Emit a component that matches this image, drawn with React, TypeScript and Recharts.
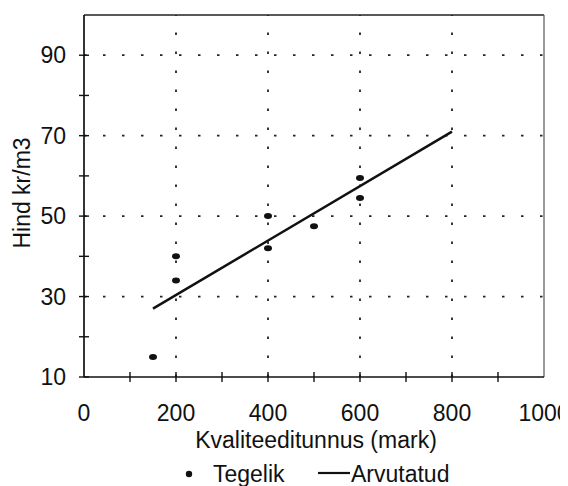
import React from 'react';
import { ScatterChart, Scatter, XAxis, YAxis, ReferenceLine, Legend } from 'recharts';

const tegelikX = [150, 200, 200, 400, 400, 500, 600, 600];
const tegelikY = [15, 40, 34, 50, 42, 47.5, 59.5, 54.5];
const arvutatudX = [150, 800];
const arvutatudY = [27, 71];

const xTicks = [0, 100, 200, 300, 400, 500, 600, 700, 800, 900, 1000];
const xLabels = [0, 200, 400, 600, 800, 1000];
const yTicks = [10, 20, 30, 40, 50, 60, 70, 80, 90, 100];
const yLabels = [10, 30, 50, 70, 90];
const xGrid = [200, 400, 600, 800];
const yGrid = [30, 50, 70, 90];

const tegelik = tegelikX.map((x, i) => ({ x, y: tegelikY[i] }));
const arvutatud = arvutatudX.map((x, i) => ({ x, y: arvutatudY[i] }));

const FONT = '"Liberation Sans", Arial, sans-serif';

const XTick = (props: any) => {
  const { x, y, payload } = props;
  const v = payload.value;
  return (
    <g>
      {v !== 0 && v !== 1000 && <line x1={x} x2={x} y1={y - 5} y2={y + 5} stroke="#111" strokeWidth={1.4} />}
      {xLabels.includes(v) && (
        <text x={x} y={y + 44} textAnchor="middle" fontFamily={FONT} fontSize={23} fill="#111">
          {v}
        </text>
      )}
    </g>
  );
};

const YTick = (props: any) => {
  const { x, y, payload } = props;
  const v = payload.value;
  return (
    <g>
      {v !== 100 && <line x1={x - 5} x2={x + 5} y1={y} y2={y} stroke="#111" strokeWidth={1.4} />}
      {yLabels.includes(v) && (
        <text x={x - 18} y={y + 8} textAnchor="end" fontFamily={FONT} fontSize={23} fill="#111">
          {v}
        </text>
      )}
    </g>
  );
};

const Dot = (props: any) => {
  const { cx, cy } = props;
  return <ellipse cx={cx} cy={cy} rx={4} ry={3} fill="#111" />;
};

const NoShape = () => <g />;

const LegendContent = () => (
  <svg width={552} height={30} style={{ display: 'block' }}>
    <circle cx={165} cy={18} r={3.2} fill="#111" />
    <text x={189} y={26} fontFamily={FONT} fontSize={23} fill="#111">Tegelik</text>
    <line x1={294} x2={326} y1={17} y2={17} stroke="#111" strokeWidth={2.2} />
    <text x={327} y={26} fontFamily={FONT} fontSize={23} fill="#111">Arvutatud</text>
  </svg>
);

export default function App() {
  return (
    <ScatterChart width={552} height={478} margin={{ top: 7, right: 16, bottom: 0, left: 16 }}>
      <XAxis
        type="number"
        dataKey="x"
        domain={[0, 1000]}
        ticks={xTicks}
        interval={0}
        tickSize={0}
        tickMargin={0}
        tickLine={false}
        tick={<XTick />}
        height={79}
        axisLine={{ stroke: '#111', strokeWidth: 1.7 }}
        allowDataOverflow
        label={{
          content: (p: any) => {
            const vb = p.viewBox;
            return (
              <text x={vb.x + vb.width / 2 + 2} y={vb.y + 71} textAnchor="middle" fontFamily={FONT} fontSize={23} fill="#111">
                Kvaliteeditunnus (mark)
              </text>
            );
          },
        }}
      />
      <YAxis
        type="number"
        dataKey="y"
        domain={[10, 100]}
        ticks={yTicks}
        interval={0}
        tickSize={0}
        tickMargin={0}
        tickLine={false}
        tick={<YTick />}
        width={60}
        axisLine={{ stroke: '#111', strokeWidth: 1.7 }}
        allowDataOverflow
        label={{
          content: (p: any) => {
            const vb = p.viewBox;
            const cx = vb.x - 2;
            const cy = vb.y + vb.height / 2 - 3;
            return (
              <text x={cx} y={cy} transform={`rotate(-90 ${cx} ${cy})`} textAnchor="middle" dominantBaseline="central" fontFamily={FONT} fontSize={23} fill="#111">
                Hind kr/m3
              </text>
            );
          },
        }}
      />
      {xGrid.map((v) => (
        <ReferenceLine key={'gx' + v} x={v} stroke="#222" strokeWidth={1.8} strokeDasharray="2.5 16.5" />
      ))}
      {yGrid.map((v) => (
        <ReferenceLine key={'gy' + v} y={v} stroke="#222" strokeWidth={1.8} strokeDasharray="2.5 16.5" />
      ))}
      <ReferenceLine y={100} stroke="#222" strokeWidth={1.7} />
      <ReferenceLine x={1000} stroke="#555" strokeWidth={1.2} />
      <Legend verticalAlign="bottom" height={30} content={<LegendContent />} />
      <Scatter name="Tegelik" data={tegelik} fill="#111" shape={<Dot />} isAnimationActive={false} />
      <Scatter
        name="Arvutatud"
        data={arvutatud}
        fill="#111"
        line={{ stroke: '#111', strokeWidth: 2.5 }}
        shape={<NoShape />}
        isAnimationActive={false}
      />
    </ScatterChart>
  );
}
